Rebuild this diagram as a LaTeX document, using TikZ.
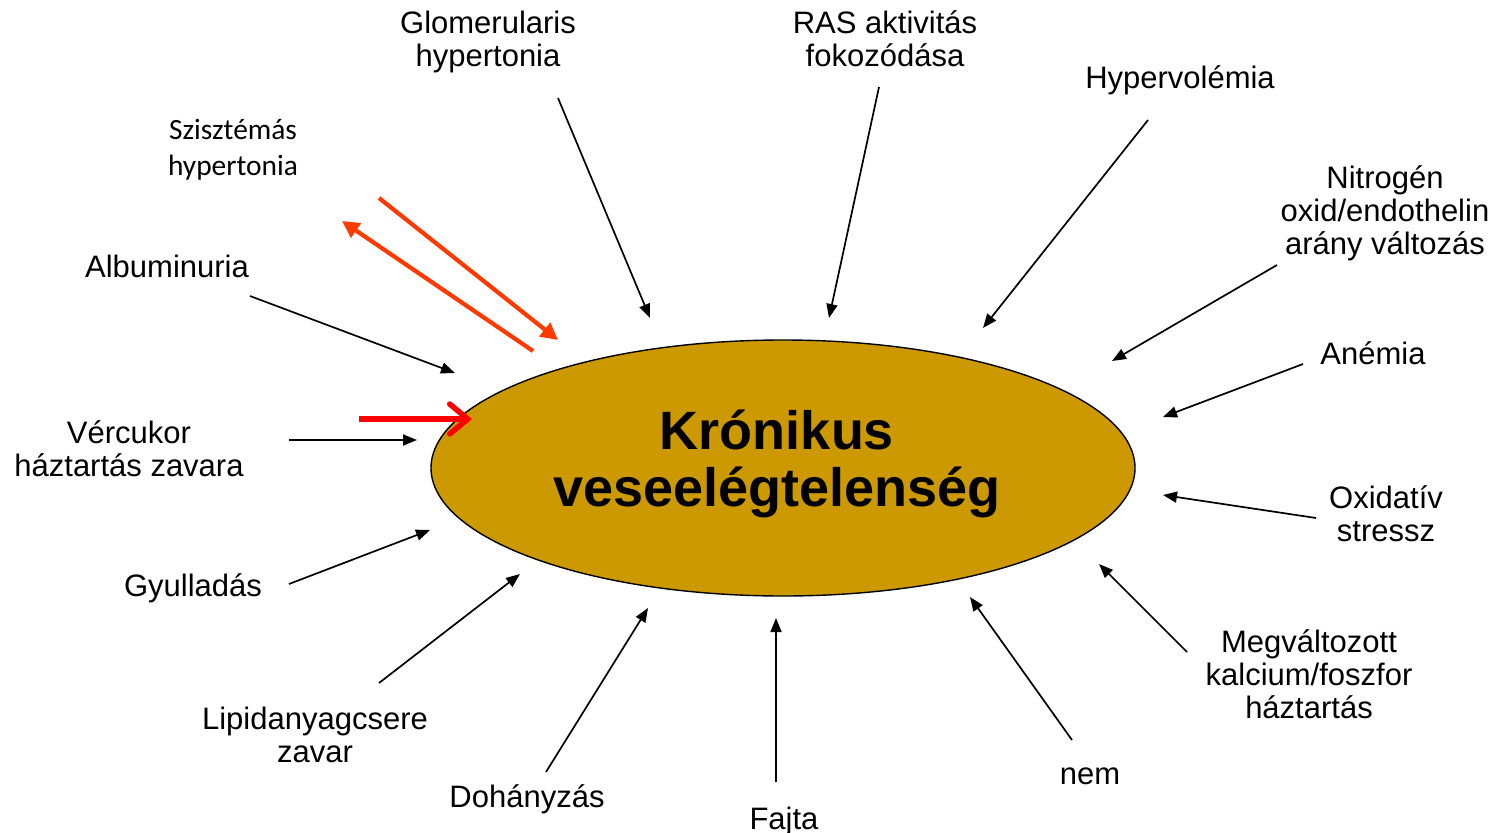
\documentclass[tikz,border=0pt]{standalone}
\usepackage{fontspec}
\setmainfont{Liberation Sans}
\newfontfamily\calfont{Carlito}
\usetikzlibrary{arrows.meta,shapes.geometric}
\definecolor{kidney}{HTML}{CC9900}
\definecolor{hot}{HTML}{FF3A00}
\begin{document}
\begin{tikzpicture}[x=1pt,y=-1pt,
  lbl/.style={font=\fontsize{31}{33}\selectfont, align=center, inner sep=0pt},
  arr/.style={-{Triangle[length=14,width=11]}, line width=1.7},
  hotarr/.style={-{Triangle[length=17,width=17]}, line width=4.2, draw=hot},
  redarr/.style={-{Straight Barb[length=18,width=30,line cap=round]}, line width=5.5, draw=red}]
\useasboundingbox (0,0) rectangle (1500,833);

% central condition
\node[ellipse, draw, line width=1.4, fill=kidney, minimum width=704, minimum height=256,
      inner sep=0pt] (ckd) at (783,468) {};
\node[font=\bfseries\fontsize{54}{57}\selectfont, align=center, inner sep=0pt] (ckdtxt) at (777,464)
      {Krónikus\\veseelégtelenség};

% risk factors around it
\node[lbl] (glom) at (488,42) {Glomerularis\\hypertonia};
\node[lbl] (ras) at (885,38.5) {RAS aktivitás\\fokozódása};
\node[lbl] (hyper) at (1180,80) {Hypervolémia};
\node[lbl] (nitro) at (1385,213) {Nitrogén\\oxid/endothelin\\arány változás};
\node[lbl] (anem) at (1373,353) {Anémia};
\node[lbl] (oxi) at (1386,514) {Oxidatív\\stressz};
\node[lbl] (ca) at (1309,674) {Megváltozott\\kalcium/foszfor\\háztartás};
\node[lbl] (nem) at (1090,776) {nem};
\node[lbl] (fajta) at (784,821) {Fajta};
\node[lbl] (doh) at (527,799) {Dohányzás};
\node[lbl] (lip) at (315,735) {Lipidanyagcsere\\zavar};
\node[lbl] (gyul) at (193,588) {Gyulladás};
\node[lbl] (ver) at (129,449) {Vércukor\\háztartás zavara};
\node[lbl] (alb) at (167,266) {Albuminuria};
\node[inner sep=0pt, align=center, font=\calfont\fontsize{29.4}{36}\selectfont] (szh) at (233,150) {Szisztémás\\hypertonia};

% arrow end points
\coordinate (glomA) at (558,98);   \coordinate (glomB) at (650,318);
\coordinate (rasA) at (879,87);    \coordinate (rasB) at (829,318);
\coordinate (hypA) at (1148,120);  \coordinate (hypB) at (983,328);
\coordinate (nitA) at (1277,265);  \coordinate (nitB) at (1112,361);
\coordinate (aneA) at (1303,364);  \coordinate (aneB) at (1163,417);
\coordinate (oxiA) at (1316,518);  \coordinate (oxiB) at (1163,495);
\coordinate (caA) at (1187,652);   \coordinate (caB) at (1099,564);
\coordinate (nemA) at (1072,740);  \coordinate (nemB) at (970,597);
\coordinate (fajA) at (776,782);   \coordinate (fajB) at (776,618);
\coordinate (dohA) at (546,772);   \coordinate (dohB) at (648,608);
\coordinate (lipA) at (379,683);   \coordinate (lipB) at (520,574);
\coordinate (gyuA) at (289,584);   \coordinate (gyuB) at (430,530);
\coordinate (verA) at (289,440);   \coordinate (verB) at (417,440);
\coordinate (albA) at (250,296);   \coordinate (albB) at (455,373);
\coordinate (redA) at (359,419);   \coordinate (redB) at (472,419);
\coordinate (hinA) at (379,198);   \coordinate (hinB) at (558,340);
\coordinate (houA) at (533,351);   \coordinate (houB) at (342,221);

\draw[arr] (glomA) -- (glomB);
\draw[arr] (rasA) -- (rasB);
\draw[arr] (hypA) -- (hypB);
\draw[arr] (nitA) -- (nitB);
\draw[arr] (aneA) -- (aneB);
\draw[arr] (oxiA) -- (oxiB);
\draw[arr] (caA) -- (caB);
\draw[arr] (nemA) -- (nemB);
\draw[arr] (fajA) -- (fajB);
\draw[arr] (dohA) -- (dohB);
\draw[arr] (lipA) -- (lipB);
\draw[arr] (gyuA) -- (gyuB);
\draw[arr] (verA) -- (verB);
\draw[arr] (albA) -- (albB);

% highlighted links
\draw[redarr] (redA) -- (redB);
\draw[hotarr] (hinA) -- (hinB);
\draw[hotarr] (houA) -- (houB);
\end{tikzpicture}
\end{document}
